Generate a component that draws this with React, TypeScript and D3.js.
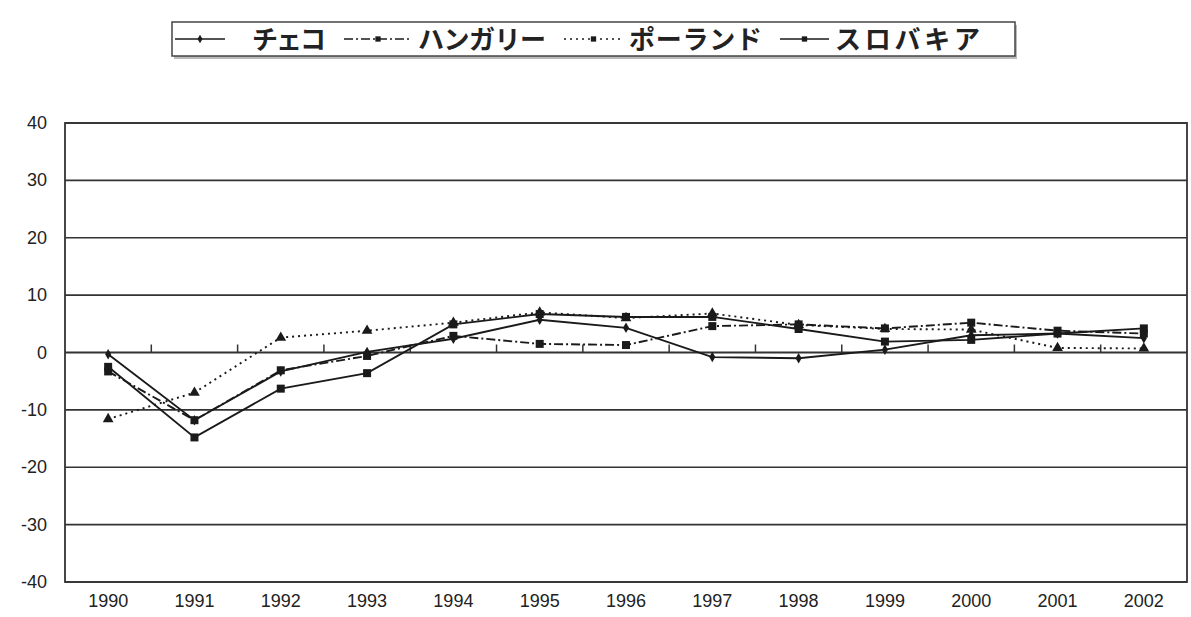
import React from 'react';
import * as d3 from 'd3';

const years = ['1990','1991','1992','1993','1994','1995','1996','1997','1998','1999','2000','2001','2002'];
const czech = [-0.3, -11.8, -3.3, 0.1, 2.4, 5.7, 4.3, -0.8, -1.0, 0.5, 3.0, 3.3, 2.5];
const hungary = [-3.3, -11.8, -3.1, -0.6, 2.9, 1.5, 1.3, 4.6, 4.9, 4.2, 5.2, 3.8, 3.3];
const poland = [-11.6, -7.0, 2.6, 3.8, 5.2, 7.0, 6.0, 6.8, 4.8, 4.1, 4.0, 0.8, 0.7];
const slovakia = [-2.5, -14.8, -6.3, -3.6, 4.9, 6.7, 6.2, 6.2, 4.1, 1.9, 2.2, 3.3, 4.2];
const yTicks = [-40, -30, -20, -10, 0, 10, 20, 30, 40];
const seriesNames = ['チェコ', 'ハンガリー', 'ポーランド', 'スロバキア'];

const W = 1191, H = 617;
const L = 65, R = 1187, T = 123, B = 582;
const ink = '#1a1a1a';

type Marker = 'diamond' | 'square' | 'triangle';
const series = [
  { name: seriesNames[0], values: czech, dash: '', marker: 'diamond' as Marker },
  { name: seriesNames[1], values: hungary, dash: '9,3,2,3', marker: 'square' as Marker },
  { name: seriesNames[2], values: poland, dash: '2,4', marker: 'triangle' as Marker },
  { name: seriesNames[3], values: slovakia, dash: '', marker: 'square' as Marker },
];

function markerPath(m: Marker, size: number) {
  const sym = m === 'diamond' ? d3.symbolDiamond : m === 'square' ? d3.symbolSquare : d3.symbolTriangle;
  return d3.symbol().type(sym).size(size)() as string;
}

export default function App() {
  const x = d3.scaleBand<string>().domain(years).range([L, R]).padding(0);
  const y = d3.scaleLinear().domain([-40, 40]).range([B, T]);
  const cx = (yr: string) => (x(yr) as number) + x.bandwidth() / 2;
  const line = d3.line<number>().x((_, i) => cx(years[i])).y(v => y(v));

  const legendItems = [
    { lx1: 175, lx2: 225, tx: 252, tw: 74 },
    { lx1: 344, lx2: 412, tx: 418, tw: 128 },
    { lx1: 564, lx2: 623, tx: 629, tw: 133 },
    { lx1: 780, lx2: 829, tx: 835, tw: 145 },
  ];
  const ly = 39;

  return (
    <svg width={W} height={H} style={{ position: 'absolute', left: 0, top: 0, background: '#fff' }}>
      <rect x={0} y={0} width={W} height={H} fill="#fff" />
      {/* legend */}
      <rect x={174} y={25} width={843} height={34} fill="#bbb" />
      <rect x={172} y={22} width={843} height={34} fill="#fff" stroke="#444" strokeWidth={1.5} />
      {series.map((s, i) => {
        const it = legendItems[i];
        const mx = (it.lx1 + it.lx2) / 2;
        return (
          <g key={s.name}>
            <line x1={it.lx1} x2={it.lx2} y1={ly} y2={ly} stroke={ink} strokeWidth={1.6} strokeDasharray={s.dash || undefined} />
            <path d={markerPath(i === 0 ? 'diamond' : 'square', i === 0 ? 22 : 28)} transform={`translate(${mx},${ly})`} fill={ink} />
            <text x={it.tx} y={ly + 9.5} fontSize={26} textLength={it.tw} lengthAdjust="spacing" fontFamily="'Noto Sans CJK JP', sans-serif" fontWeight={700} fill="#222">{s.name}</text>
          </g>
        );
      })}
      {/* gridlines */}
      {yTicks.map(t => (
        <line key={t} x1={L} x2={R} y1={y(t)} y2={y(t)} stroke="#333" strokeWidth={t === 0 ? 2.2 : 1.6} />
      ))}
      {/* plot frame */}
      <rect x={L} y={T} width={R - L} height={B - T} fill="none" stroke="#333" strokeWidth={1.8} />
      {/* category ticks on zero axis */}
      {years.slice(1).map(yr => (
        <line key={yr} x1={x(yr) as number} x2={x(yr) as number} y1={y(0) - 8} y2={y(0)} stroke="#333" strokeWidth={1.5} />
      ))}
      {/* y labels */}
      {yTicks.map(t => (
        <text key={t} x={47} y={y(t) + 6} textAnchor="end" fontSize={18} fontFamily="'Liberation Sans', Arial, sans-serif" fill="#222">{t}</text>
      ))}
      {/* x labels */}
      {years.map(yr => (
        <text key={yr} x={cx(yr)} y={607} textAnchor="middle" fontSize={18} fontFamily="'Liberation Sans', Arial, sans-serif" fill="#222">{yr}</text>
      ))}
      {/* series */}
      {series.map(s => (
        <g key={s.name}>
          <path d={line(s.values) as string} fill="none" stroke={ink} strokeWidth={1.9} strokeDasharray={s.dash || undefined} />
          {s.values.map((v, i) => (
            <path key={i} d={markerPath(s.marker, s.marker === 'diamond' ? 32 : s.marker === 'triangle' ? 50 : 64)} transform={`translate(${cx(years[i])},${y(v)})`} fill={ink} />
          ))}
        </g>
      ))}
    </svg>
  );
}
